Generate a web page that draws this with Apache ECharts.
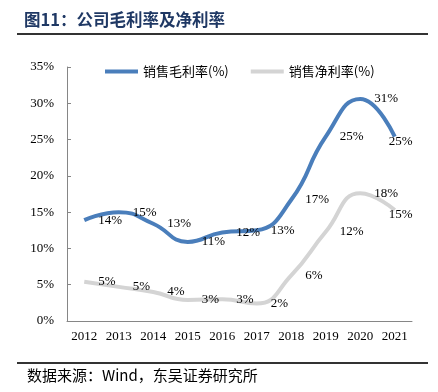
<!DOCTYPE html>
<html><head><meta charset="utf-8">
<script src="https://cdn.jsdelivr.net/npm/echarts@6/dist/echarts.min.js"></script>
<style>html,body{margin:0;padding:0;background:#fff}#c{width:438px;height:392px}</style>
</head><body><div id="c"></div>
<script>
const years = ['2012','2013','2014','2015','2016','2017','2018','2019','2020','2021'];
const grossMargin = [13.9, 15.0, 13.4, 10.9, 12.2, 12.5, 16.7, 25.4, 30.6, 25.4];
const netMargin = [5.4, 4.7, 4.0, 2.9, 3.0, 2.4, 6.3, 12.3, 17.6, 15.3];
const yTicks = [0, 5, 10, 15, 20, 25, 30, 35];

const serif = '"Liberation Serif","Times New Roman",serif';
const cjk = '"Noto Sans CJK SC",sans-serif';

function mkData(arr){
  return arr.map((v,i)=> i===arr.length-1
    ? {value:v, label:{position:'inside', offset:[6,5]}}
    : v);
}
const lbl = {show:true, position:'right', distance:14, color:'#000', fontFamily:serif, fontSize:13,
  formatter:p=>Math.round(p.value)+'%'};

const chart = echarts.init(document.getElementById('c'));
chart.setOption({
  animation:false,
  title:{text:'图11：公司毛利率及净利率', left:19, top:6,
    textStyle:{fontFamily:cjk, fontSize:16.5, fontWeight:'bold', color:'#1f3864'}},
  graphic:[
    {type:'line', shape:{x1:17,y1:34,x2:428,y2:34}, style:{stroke:'#333',lineWidth:2}},
    {type:'line', shape:{x1:17,y1:363,x2:428,y2:363}, style:{stroke:'#333',lineWidth:2}},
    {type:'text', left:27, top:368, style:{text:'数据来源：Wind，东吴证券研究所', font:'15px "Noto Sans CJK SC"', fill:'#000'}}
  ],
  legend:{top:60, left:100, itemWidth:33, itemHeight:4, itemGap:22, icon:'rect',
    textStyle:{fontFamily:cjk, fontSize:13, color:'#000'},
    data:['销售毛利率(%)','销售净利率(%)']},
  grid:{left:67, right:26, top:67, bottom:71},
  xAxis:{type:'category', data:years, boundaryGap:true,
    axisLine:{lineStyle:{color:'#868686'}},
    axisTick:{inside:true, length:5, lineStyle:{color:'#868686'}},
    axisLabel:{color:'#000', fontFamily:serif, fontSize:13, margin:9}},
  yAxis:{type:'value', min:yTicks[0], max:yTicks[yTicks.length-1], interval:5,
    axisLine:{show:true, lineStyle:{color:'#868686'}},
    axisTick:{show:true, inside:true, length:4, lineStyle:{color:'#868686'}},
    splitLine:{show:false},
    axisLabel:{color:'#000', fontFamily:serif, fontSize:13, margin:13, formatter:v=>v+'%'}},
  series:[
    {name:'销售毛利率(%)', type:'line', smooth:0.5, symbol:'circle', symbolSize:0, showSymbol:true, data:mkData(grossMargin),
      lineStyle:{color:'#4a7ebb', width:4}, itemStyle:{color:'#4a7ebb'}, label:lbl},
    {name:'销售净利率(%)', type:'line', smooth:0.5, symbol:'circle', symbolSize:0, showSymbol:true, data:mkData(netMargin),
      lineStyle:{color:'#d4d4d4', width:4}, itemStyle:{color:'#d4d4d4'}, label:lbl}
  ]
});
</script></body></html>
